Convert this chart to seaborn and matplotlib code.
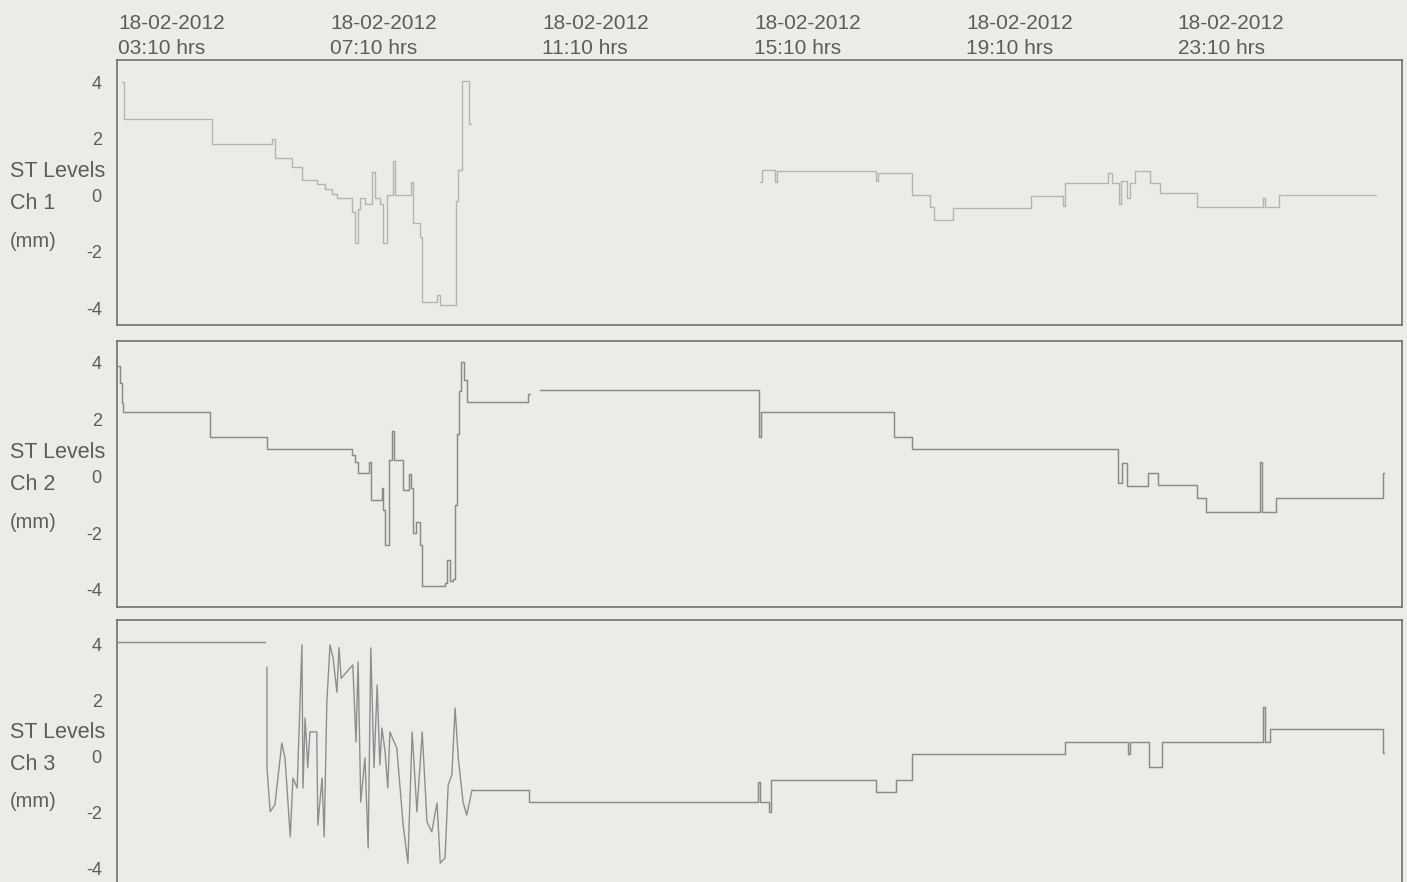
import matplotlib
matplotlib.use("Agg")
import matplotlib.pyplot as plt
import matplotlib.transforms as mtransforms
import seaborn as sns
import pandas as pd

# ─── Data (time in hours after 18-02-2012 03:10, ST level in mm) ─────────────
DATE = "18-02-2012"
TICK_HOURS = [0, 4, 8, 12, 16, 20]
TICK_TIMES = ["03:10", "07:10", "11:10", "15:10", "19:10", "23:10"]
Y_TICKS = [-4, -2, 0, 2, 4]
CHANNELS = ["Ch 1", "Ch 2", "Ch 3"]

# Channel 1
ch1_a_t = [0.08, 0.11, 1.77, 2.91, 2.96, 3.28, 3.47, 3.75, 3.91, 4.04, 4.13, 4.42,
           4.47, 4.53, 4.57, 4.66, 4.79, 4.85, 4.94, 5.00, 5.08, 5.19, 5.23, 5.53,
           5.57, 5.70, 5.74, 6.02, 6.08, 6.38, 6.42, 6.49, 6.62, 6.66]
ch1_a_v = [4.0, 2.7, 1.8, 2.0, 1.3, 1.0, 0.55, 0.4, 0.2, 0.05, -0.1, -0.6,
           -1.7, -0.5, -0.1, -0.3, 0.8, -0.1, -0.3, -1.7, 0.0, 1.2, 0.0, 0.45,
           -1.0, -1.5, -3.8, -3.55, -3.9, -0.2, 0.9, 4.05, 2.5, 2.5]
ch1_b_t = [12.11, 12.15, 12.40, 12.43, 14.30, 14.34, 14.98, 15.32, 15.40, 15.75,
           17.23, 17.83, 17.87, 18.68, 18.75, 18.89, 18.92, 19.04, 19.09, 19.19,
           19.47, 19.66, 20.36, 21.60, 21.64, 21.91, 23.74]
ch1_b_v = [0.45, 0.9, 0.45, 0.85, 0.5, 0.78, 0.0, -0.42, -0.88, -0.47,
           -0.05, -0.4, 0.42, 0.78, 0.42, -0.3, 0.5, -0.1, 0.42, 0.85,
           0.42, 0.07, -0.42, -0.1, -0.42, 0.0, 0.0]

# Channel 2
ch2_a_t = [0.0, 0.04, 0.08, 0.09, 1.74, 2.81, 4.42, 4.47, 4.53, 4.74, 4.77, 4.98,
           5.00, 5.04, 5.11, 5.17, 5.21, 5.38, 5.49, 5.53, 5.57, 5.62, 5.70, 5.74,
           6.17, 6.21, 6.26, 6.32, 6.36, 6.40, 6.43, 6.47, 6.53, 6.58, 7.74, 7.77]
ch2_a_v = [3.9, 3.3, 2.6, 2.27, 1.39, 0.97, 0.75, 0.51, 0.12, 0.51, -0.83, -0.4,
           -1.2, -2.41, 0.58, 1.6, 0.58, -0.47, 0.1, -0.4, -2.0, -1.6, -2.4, -3.85,
           -3.75, -2.95, -3.7, -3.6, -1.0, 1.5, 3.0, 4.03, 3.4, 2.62, 2.9, 2.9]
ch2_b_t = [7.96, 12.09, 12.13, 14.64, 14.98, 18.87, 18.94, 19.04, 19.43, 19.62,
           20.36, 20.53, 21.55, 21.59, 21.85, 23.87, 23.89]
ch2_b_v = [3.05, 1.39, 2.27, 1.39, 0.97, -0.23, 0.47, -0.35, 0.12, -0.3,
           -0.76, -1.25, 0.5, -1.25, -0.76, 0.12, 0.12]

# Channel 3
ch3_a_t = [0.0, 2.77]
ch3_a_v = [4.1, 4.1]
ch3_burst_t = [2.81, 2.81, 2.87, 2.96, 3.09, 3.15, 3.25, 3.30, 3.38, 3.43, 3.47, 3.49,
               3.53, 3.58, 3.62, 3.75, 3.77, 3.85, 3.89, 3.94, 4.00, 4.06, 4.13, 4.17,
               4.21, 4.43, 4.49, 4.53, 4.58, 4.66, 4.72, 4.77, 4.83, 4.89, 4.94, 4.98,
               5.04, 5.09, 5.13, 5.26, 5.38, 5.47, 5.55, 5.64, 5.74, 5.83, 5.92, 6.02,
               6.08, 6.17, 6.23, 6.30, 6.36, 6.42, 6.51, 6.58, 6.68]
ch3_burst_v = [3.2, -0.4, -1.98, -1.73, 0.48, -0.05, -2.88, -0.77, -1.13, 1.74, 4.0, -1.13,
               1.38, -0.4, 0.88, 0.88, -2.45, -0.77, -2.88, 1.95, 4.0, 3.5, 2.3, 3.9,
               2.8, 3.28, 0.52, 3.39, -1.63, -0.05, -3.28, 3.89, -0.4, 2.56, -0.3, 1.02,
               0.16, -1.13, 0.88, 0.3, -2.45, -3.82, 0.88, -1.98, 0.88, -2.34, -2.7, -1.66,
               -3.82, -3.64, -1.02, -0.66, 1.74, -0.05, -1.63, -2.1, -1.2]
ch3_b_t = [6.68, 7.75, 12.08, 12.11, 12.28, 12.32, 14.30, 14.68, 14.98, 17.87,
           19.06, 19.09, 19.45, 19.70, 21.60, 21.64, 21.74, 23.87, 23.89]
ch3_b_v = [-1.2, -1.63, -0.92, -1.63, -1.98, -0.84, -1.27, -0.84, 0.09, 0.52,
           0.09, 0.52, -0.38, 0.52, 1.78, 0.52, 0.99, 0.13, 0.13]

# ─── Style ───────────────────────────────────────────────────────────────────
PAPER = "#ebebe8"
TEXT = "#5c5c5c"
FRAME = "#707070"

sns.set_style("white")
plt.rcParams["font.family"] = ["Liberation Sans", "DejaVu Sans"]


def seg_frame(pairs):
    rows = []
    for i, (t, v) in enumerate(pairs):
        rows.append(pd.DataFrame({"t": t, "v": v, "seg": i}))
    return pd.concat(rows, ignore_index=True)


step_data = [
    seg_frame([(ch1_a_t, ch1_a_v), (ch1_b_t, ch1_b_v)]),
    seg_frame([(ch2_a_t, ch2_a_v), (ch2_b_t, ch2_b_v)]),
    seg_frame([(ch3_a_t, ch3_a_v), (ch3_b_t, ch3_b_v)]),
]
line_colors = ["#b4b4b2", "#8a8a8a", "#8a8a8a"]
line_widths = [1.0, 1.05, 1.05]

fig = plt.figure(figsize=(14.07, 8.82), dpi=100, facecolor=PAPER)

# panel boxes in pixels (top, bottom) and y ranges
boxes = [(60, 325), (341, 607), (620, 886)]
ylims = [(-4.6, 4.78), (-4.6, 4.77), (-4.64, 4.89)]
L, R, H = 117, 1402, 882

axes = []
for k, ((top, bot), yl) in enumerate(zip(boxes, ylims)):
    ax = fig.add_axes([L / 1407, 1 - bot / H, (R - L) / 1407, (bot - top) / H])
    ax.set_facecolor(PAPER)
    sns.lineplot(data=step_data[k], x="t", y="v", units="seg", estimator=None,
                 sort=False, drawstyle="steps-post", color=line_colors[k],
                 lw=line_widths[k], ax=ax, legend=False)
    ax.set_xlim(-0.02, 24.23)
    ax.set_ylim(*yl)
    ax.set_xlabel("")
    ax.set_ylabel("")
    ax.set_yticks(Y_TICKS)
    ax.set_yticklabels([str(y) for y in Y_TICKS], color=TEXT, fontsize=13)
    ax.tick_params(axis="y", length=0, pad=11)
    ax.set_xticks(TICK_HOURS)
    ax.tick_params(axis="x", length=0)
    for sp in ax.spines.values():
        sp.set_color(FRAME)
        sp.set_linewidth(1.2)

    trans = mtransforms.blended_transform_factory(fig.transFigure, ax.transData)
    for txt, yv, fs in zip(["ST Levels", CHANNELS[k], "(mm)"], [0.85, -0.3, -1.63],
                           [15.5, 15.5, 14.5]):
        ax.text(10 / 1407, yv, txt, transform=trans, ha="left", va="center",
                fontsize=fs, color=TEXT)
    axes.append(ax)

# burst segment of channel 3 is a plain polyline
sns.lineplot(x=ch3_burst_t, y=ch3_burst_v, sort=False, estimator=None,
             color="#8e8e8e", lw=1.0, ax=axes[2], legend=False)

# top time axis
ax1 = axes[0]
ax1.xaxis.tick_top()
ax1.set_xticklabels([f"{DATE}\n{t} hrs" for t in TICK_TIMES], ha="left",
                    fontsize=15, color=TEXT, linespacing=1.4)
ax1.tick_params(axis="x", pad=1.5)
for ax in axes[1:]:
    ax.set_xticklabels([])

fig.savefig("out.png", dpi=100, facecolor=PAPER)
